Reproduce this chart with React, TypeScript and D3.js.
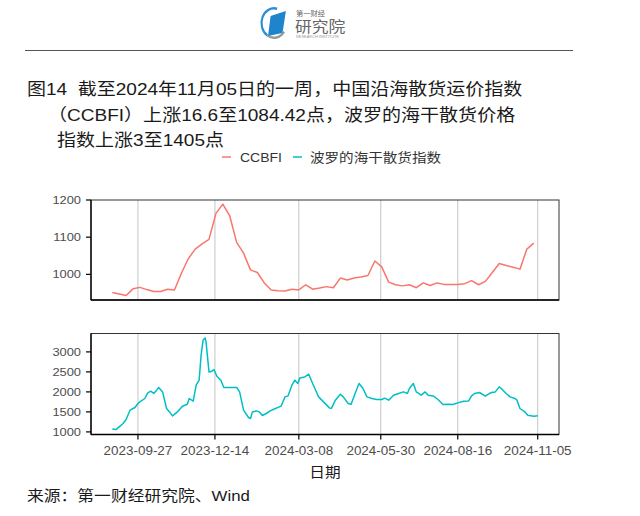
import * as d3 from "d3";
import { useEffect, useRef } from "react";

// CCBFI weekly, first point 2023-09-01 (Fri)
const ccbfiStart = "2023-09-01";
const ccbfiValues = [
    951, 947, 943, 961, 965, 959, 954, 954, 960, 958, 1003, 1042, 1068, 1082, 1094,
    1164, 1189, 1157, 1086, 1057, 1012, 1005, 977, 958, 956, 955, 960, 958, 972, 960,
    963, 967, 964, 990, 985, 990, 993, 997, 1036, 1020, 979, 972, 969, 972, 964, 977,
    970, 977, 973, 973, 973, 975, 983, 972, 981, 1005, 1029, 1024, 1019, 1014, 1068, 1084,
];

// BDI: days after 2023-09-01 and the index value
const bdiStart = "2023-09-01";
const bdiDays = [
    0, 4, 7, 11, 14, 18, 23, 26, 28, 33, 36, 39, 42, 45, 47, 51, 55, 58, 61, 66, 71, 76, 78,
    82, 85, 88, 90, 92, 94, 95, 98, 101, 103, 106, 110, 113, 126, 129, 133, 138, 140, 142,
    146, 149, 152, 156, 160, 163, 171, 175, 178, 182, 185, 188, 190, 195, 199, 203, 209,
    214, 220, 222, 226, 231, 234, 239, 242, 246, 250, 254, 258, 263, 268, 273, 276, 280,
    285, 290, 295, 299, 301, 305, 308, 313, 317, 320, 325, 330, 335, 340, 345, 350, 356,
    361, 364, 367, 372, 378, 381, 384, 388, 392, 394, 399, 403, 408, 410, 413, 418, 421,
    427, 431,
];
const bdiValues = [
    1070, 1062, 1125, 1210, 1310, 1543, 1610, 1710, 1750, 1835, 1975, 2018, 1960, 2043,
    2110, 2000, 1585, 1500, 1400, 1500, 1643, 1693, 1835, 1768, 2168, 2293, 2918, 3293,
    3350, 3250, 2500, 2518, 2560, 2393, 2293, 2110, 2110, 2000, 1543, 1360, 1335, 1500,
    1525, 1500, 1410, 1460, 1525, 1560, 1643, 1875, 1900, 2168, 2293, 2210, 2350, 2375,
    2443, 2210, 1875, 1750, 1600, 1590, 1793, 1943, 1875, 1710, 1693, 1960, 2210, 2085,
    1875, 1835, 1810, 1810, 1843, 1793, 1918, 1960, 2000, 1960, 2085, 2210, 2000, 1918,
    2000, 1918, 1900, 1810, 1685, 1693, 1685, 1725, 1768, 1775, 1900, 1960, 1985, 1893,
    1943, 1985, 2000, 2125, 2085, 1960, 1875, 1835, 1793, 1585, 1500, 1418, 1393, 1405,
];

const xTicks = ["2023-09-27", "2023-12-14", "2024-03-08", "2024-05-30", "2024-08-16", "2024-11-05"];
const ccbfiTicks = [1000, 1100, 1200];
const bdiTicks = [1000, 1500, 2000, 2500, 3000];
const ccbfiDomain = [931, 1200];
const bdiDomain = [935, 3460];

const titleLines = [
    "图14  截至2024年11月05日的一周，中国沿海散货运价指数",
    "（CCBFI）上涨16.6至1084.42点，波罗的海干散货价格",
    "指数上涨3至1405点",
];
const legendLabels = ["CCBFI", "波罗的海干散货指数"];
const xTitle = "日期";
const source = "来源：第一财经研究院、Wind";

const FONT = '"Liberation Sans", Arial, "Noto Sans CJK SC", sans-serif';
const SX = 1.12; // picture text is slightly stretched sideways

export default function App() {
    const svgRef = useRef<SVGSVGElement | null>(null);

    useEffect(() => {
        if (!svgRef.current) return;
        const svg = d3.select(svgRef.current);
        svg.selectAll("*").remove();

        const W = 640;
        const H = 516;
        svg.attr("width", W).attr("height", H);
        svg.append("rect").attr("width", W).attr("height", H).attr("fill", "#fff");

        const text = (
            x: number,
            y: number,
            s: string,
            size: number,
            fill: string,
            anchor = "start"
        ) =>
            svg
                .append("text")
                .attr("transform", `translate(${x},${y}) scale(${SX},1)`)
                .attr("font-family", FONT)
                .attr("font-size", size)
                .attr("fill", fill)
                .attr("text-anchor", anchor)
                .style("white-space", "pre")
                .text(s);

        // logo
        const logo = svg.append("g").attr("transform", "translate(274,23) scale(0.85,1)");
        logo.append("path")
            .attr("d", d3.arc()({ innerRadius: 13.5, outerRadius: 16, startAngle: 3.7, endAngle: 2 * Math.PI + 0.25 }) as string)
            .attr("fill", "#2b8fd6");
        logo.append("path")
            .attr("d", d3.arc()({ innerRadius: 13.5, outerRadius: 16, startAngle: 2.2, endAngle: 3.7 }) as string)
            .attr("fill", "#9a9a9a");
        logo.append("path")
            .attr("d", "M-4,-7 L14,-12 L10,10 L-7,13 Z")
            .attr("fill", "#1f84cc");
        text(296, 16, "第一财经", 6.5, "#666");
        text(295, 32, "研究院", 15, "#666");
        text(296, 37.5, "RESEARCH INSTITUTE", 3.5, "#999");

        svg.append("line")
            .attr("x1", 25).attr("x2", 573)
            .attr("y1", 50.5).attr("y2", 50.5)
            .attr("stroke", "#555").attr("stroke-width", 1);

        // title
        text(27, 95, titleLines[0], 17, "#1a1a1a");
        text(48, 121, titleLines[1], 17, "#1a1a1a");
        text(57, 146, titleLines[2], 17, "#1a1a1a");

        // legend
        const red = "#F8766D";
        const cyan = "#00BFC4";
        svg.append("line").attr("x1", 222).attr("x2", 231).attr("y1", 157).attr("y2", 157)
            .attr("stroke", red).attr("stroke-width", 1.5);
        text(240, 162, legendLabels[0], 12.5, "#333");
        svg.append("line").attr("x1", 293).attr("x2", 302).attr("y1", 157).attr("y2", 157)
            .attr("stroke", cyan).attr("stroke-width", 1.5);
        text(310, 162, legendLabels[1], 13, "#333");

        const parse = d3.timeParse("%Y-%m-%d");
        const ccbfiDates = ccbfiValues.map((_, i) => d3.timeWeek.offset(parse(ccbfiStart)!, i));
        const bdiDates = bdiDays.map((d) => d3.timeDay.offset(parse(bdiStart)!, d));

        const first = bdiDates[0];
        const last = bdiDates[bdiDates.length - 1];
        const span = +last - +first;
        const left = 91;
        const right = 559;
        const x = d3
            .scaleTime()
            .domain([new Date(+first - span * 0.05), new Date(+last + span * 0.05)])
            .range([left, right]);
        const tickDates = xTicks.map((t) => parse(t)!);

        const panel = (
            top: number,
            bottom: number,
            domain: number[],
            ticks: number[],
            dates: Date[],
            values: number[],
            color: string,
            showX: boolean
        ) => {
            const y = d3.scaleLinear().domain(domain).range([bottom, top]);
            const g = svg.append("g");
            g.selectAll(".grid")
                .data(tickDates)
                .join("line")
                .attr("x1", (d) => x(d)).attr("x2", (d) => x(d))
                .attr("y1", top).attr("y2", bottom)
                .attr("stroke", "#c4c4c4").attr("stroke-width", 1);

            const line = d3
                .line<number>()
                .x((_, i) => x(dates[i]))
                .y((d) => y(d));
            g.append("path")
                .datum(values)
                .attr("fill", "none")
                .attr("stroke", color)
                .attr("stroke-width", 1.5)
                .attr("stroke-linejoin", "round")
                .attr("d", line);

            g.append("rect")
                .attr("x", left).attr("y", top)
                .attr("width", right - left).attr("height", bottom - top)
                .attr("fill", "none").attr("stroke", "#333").attr("stroke-width", 1);
            g.append("line").attr("x1", left).attr("x2", left).attr("y1", top).attr("y2", bottom)
                .attr("stroke", "#000").attr("stroke-width", 1.3);
            g.append("line").attr("x1", left).attr("x2", right).attr("y1", bottom).attr("y2", bottom)
                .attr("stroke", "#000").attr("stroke-width", 1.3);

            ticks.forEach((t) => {
                g.append("line")
                    .attr("x1", left - 5).attr("x2", left)
                    .attr("y1", y(t)).attr("y2", y(t))
                    .attr("stroke", "#000").attr("stroke-width", 1.2);
                text(left - 10, y(t) + 4, String(t), 11.5, "#4d4d4d", "end");
            });

            if (showX) {
                tickDates.forEach((d, i) => {
                    g.append("line")
                        .attr("x1", x(d)).attr("x2", x(d))
                        .attr("y1", bottom).attr("y2", bottom + 5)
                        .attr("stroke", "#000").attr("stroke-width", 1.2);
                    text(x(d), bottom + 20, xTicks[i], 12, "#4d4d4d", "middle");
                });
            }
        };

        panel(200, 300, ccbfiDomain, ccbfiTicks, ccbfiDates, ccbfiValues, red, false);
        panel(333.5, 434.5, bdiDomain, bdiTicks, bdiDates, bdiValues, cyan, true);

        text(325, 477, xTitle, 14, "#1a1a1a", "middle");
        text(27, 501, source, 15, "#1a1a1a");
    }, []);

    return (
        <svg
            ref={svgRef}
            style={{ position: "absolute", left: 0, top: 0, display: "block" }}
        />
    );
}
